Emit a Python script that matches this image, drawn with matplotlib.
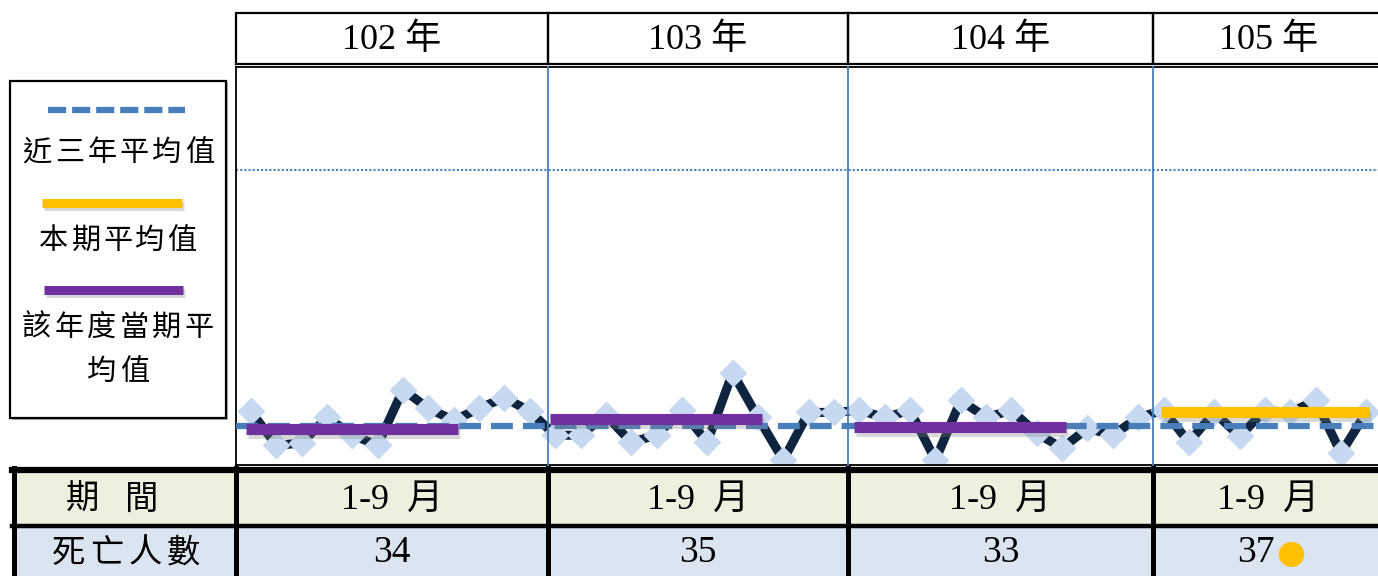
import numpy as np
import matplotlib
matplotlib.use("Agg")
import matplotlib.pyplot as plt
import matplotlib.patheffects as pe
from matplotlib.patches import Rectangle

plt.rcParams["font.family"] = ["Liberation Serif", "Noto Sans CJK TC"]

# ---- data ----
years = ["102 年", "103 年", "104 年", "105 年"]
periods = ["1-9  月", "1-9  月", "1-9  月", "1-9  月"]
deaths = ["34", "35", "33", "37"]

m102 = [5.4, 2.0, 2.2, 4.8, 3.0, 2.0, 7.6, 5.7, 4.5, 5.7, 6.8, 5.4]
m103 = [3.0, 3.0, 5.0, 2.3, 3.0, 5.5, 2.3, 9.3, 4.8, 0.5, 5.3, 5.3]
m104 = [5.5, 4.8, 5.5, 0.5, 6.5, 4.8, 5.5, 3.2, 1.7, 3.7, 3.0, 4.8]
m105 = [5.5, 2.3, 5.3, 2.9, 5.5, 5.3, 6.5, 1.2, 5.3]

avg_3yr = 3.9          # 近三年平均值
year_period_avg = [3.6, 4.6, 3.8]   # 該年度當期平均值
current_avg = 5.3      # 本期平均值
alert_level = 29.7

legend_labels = ["近三年平均值", "本期平均值", "該年度當期平", "均值"]
row_labels = ["期間", "死亡人數"]

# ---- colours ----
navy = "#0f243e"
light = "#c6d9f1"
blue = "#4a7ebb"
purple = "#7030a0"
gold = "#ffc000"

W, H = 1378, 576
fig = plt.figure(figsize=(W / 100, H / 100), dpi=100)

# main plot area
ax = fig.add_axes([236 / W, (H - 465) / H, (W - 236) / W, (465 - 67) / H])
values = m102 + m103 + m104 + m105
x = np.arange(len(values))
ax.plot(x, values, color=navy, lw=6.5, marker="D", ms=13,
        mfc=light, mec=light, zorder=2)
ax.axhline(avg_3yr, color=blue, lw=4.5, dashes=(3.5, 1.6), zorder=3)
ax.axhline(alert_level, color=blue, lw=1.5, ls=(0, (1, 1)), zorder=1)

shadow = [pe.SimpleLineShadow(offset=(1.5, -2.5), shadow_color="gray", alpha=0.3), pe.Normal()]
for k, lvl in enumerate(year_period_avg):
    ax.plot([12 * k - 0.2, 12 * k + 8.15], [lvl, lvl], color=purple, lw=8,
            solid_capstyle="butt", zorder=4, path_effects=shadow)
ax.plot([36 - 0.1, 36 + 8.1], [current_avg, current_avg], color=gold, lw=8,
        solid_capstyle="butt", zorder=4, path_effects=shadow)

ax.set_xlim(-0.59, 44.46)
ax.set_ylim(0, 40.1)
ax.set_xticks([])
ax.set_yticks([])
ax.spines["right"].set_visible(False)
for s in ["left", "top", "bottom"]:
    ax.spines[s].set_linewidth(1.3)

# overlay in pixel coordinates for header, legend and table
ov = fig.add_axes([0, 0, 1, 1])
ov.set_xlim(0, W)
ov.set_ylim(H, 0)
ov.axis("off")
ov.patch.set_alpha(0)


def spaced(cx, cy, s, step, size):
    n = len(s)
    for k, ch in enumerate(s):
        ov.text(cx + (k - (n - 1) / 2) * step, cy, ch, ha="center", va="center",
                fontsize=size, family="Noto Sans CJK TC")


edges = [236, 548, 848, 1153, 1384]
mids = [(a + b) / 2 for a, b in zip(edges[:-1], edges[1:])]

# year separators inside the plot
for xe in edges[1:-1]:
    ov.plot([xe, xe], [67, 466], color=blue, lw=1.3, zorder=1)

# header row
for k, lab in enumerate(years):
    ov.add_patch(Rectangle((edges[k], 13), edges[k + 1] - edges[k], 51,
                           fill=False, ec="black", lw=1.6))
    ov.text(mids[k], 40, lab, ha="center", va="center", fontsize=26)

# legend box
ov.add_patch(Rectangle((12, 83), 216, 337, fc="#b0b0b0", ec="none"))
ov.add_patch(Rectangle((10, 81), 216, 337, fc="white", ec="black", lw=1.6))
ov.plot([48, 185], [110, 110], color=blue, lw=4.5, dashes=(2.9, 0.95))
spaced(118, 153, legend_labels[0], 32.5, 21)
ov.plot([42, 182], [203, 203], color=gold, lw=6.5, solid_capstyle="butt",
        path_effects=shadow)
spaced(118, 241, legend_labels[1], 32, 21)
ov.plot([44, 183], [290, 290], color=purple, lw=6.5, solid_capstyle="butt",
        path_effects=shadow)
spaced(118, 328, legend_labels[2], 32.5, 21)
spaced(118, 372, legend_labels[3], 32.5, 21)

# bottom table
row_top = [472, 527]
row_h = [53, 60]
fills = ["#ebf1de", "#dbe5f1"]
for r in range(2):
    ov.add_patch(Rectangle((12, row_top[r]), W + 50, row_h[r], fc=fills[r],
                           ec="none", zorder=1))
ov.plot([12, W + 10], [470, 470], color="black", lw=4.5, zorder=3)
ov.plot([12, W + 10], [526, 526], color="black", lw=3.2, zorder=3)
for xe in [14] + edges[:-1]:
    ov.plot([xe, xe], [468, H + 5], color="black", lw=3.6, zorder=3)

spaced(112, 499, row_labels[0], 60, 24)
spaced(126, 553, row_labels[1], 38, 24)
for k in range(4):
    ov.text(mids[k], 500, periods[k], ha="center", va="center", fontsize=26, zorder=4)
    if k < 3:
        ov.text(mids[k], 553, deaths[k], ha="center", va="center", fontsize=27, zorder=4)
    else:
        ov.text(mids[k] - 13, 553, deaths[k], ha="center", va="center", fontsize=27, zorder=4)
        ov.text(mids[k] + 22, 553, "●", ha="center", va="center", fontsize=24,
                color=gold, family="DejaVu Sans", zorder=4)

fig.savefig("out.png", dpi=100)
